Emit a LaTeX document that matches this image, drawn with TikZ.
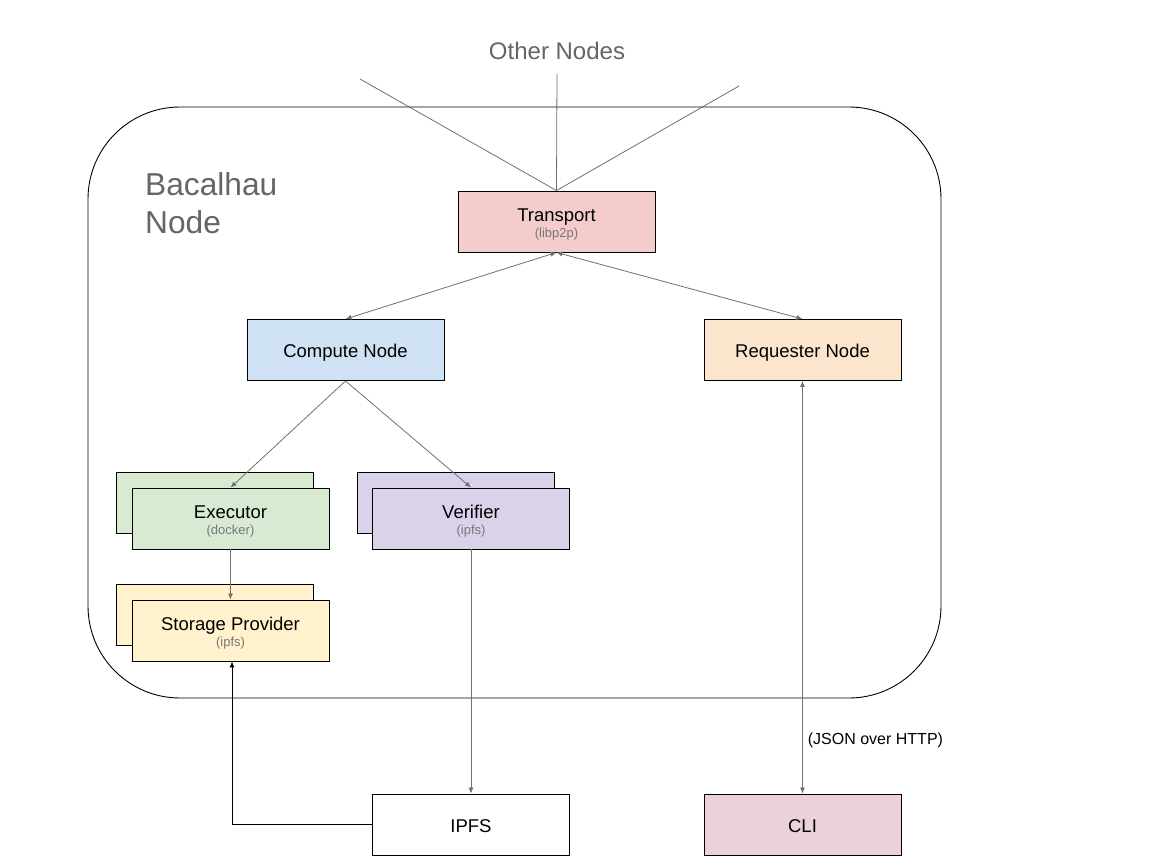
\documentclass[tikz,border=0pt]{standalone}
\usepackage{fontspec}
\setmainfont{Liberation Sans}
\usetikzlibrary{arrows.meta}
\definecolor{transportc}{HTML}{F4CCCC}
\definecolor{computec}{HTML}{CFE2F3}
\definecolor{requesterc}{HTML}{FCE5CD}
\definecolor{executorc}{HTML}{D9EAD3}
\definecolor{verifierc}{HTML}{D9D2E9}
\definecolor{storagec}{HTML}{FFF2CC}
\definecolor{clic}{HTML}{EAD1DC}
\definecolor{textgrey}{HTML}{666666}
\definecolor{subgrey}{HTML}{777777}
\definecolor{linegrey}{HTML}{707070}
\newcommand\subtxt[1]{{\color{subgrey}\fontsize{13}{13}\selectfont #1}}
\begin{document}
\begin{tikzpicture}[x=1pt,y=-1pt,
  box/.style={draw=black, line width=0.9pt, minimum width=197pt, minimum height=61pt,
    inner sep=0pt, align=center, font=\fontsize{18.5}{18}\selectfont},
  onebox/.style={box, text height=18pt, text depth=3pt},
  twobox/.style={box, text height=33pt, text depth=2pt},
  conn/.style={draw=linegrey, line width=0.8pt},
  arr/.style={conn, -{Latex[length=6pt,width=5pt]}},
  darr/.style={conn, {Latex[length=6pt,width=5pt]}-{Latex[length=6pt,width=5pt]}},
  blackarr/.style={draw=black, line width=0.9pt, -{Latex[length=6pt,width=5pt]}},
  greytext/.style={text=textgrey, inner sep=0pt}]
\useasboundingbox (0,0) rectangle (1152,864);
\fill[white] (0,0) rectangle (1152,864);

% outer Bacalhau node frame
\draw[line width=0.9pt, rounded corners=92pt] (88,107) rectangle (941,698);

\node[greytext, font=\fontsize{24}{24}\selectfont] (othernodes) at (557,51) {Other Nodes};
\node[greytext, font=\fontsize{31.7}{38}\selectfont, align=left, anchor=north west] (bacalhau) at (145,172) {Bacalhau\\Node};

\node[twobox, fill=transportc] (transport) at (556.5,221.5) {Transport\\[-2pt]\subtxt{(libp2p)}};
\node[onebox, fill=computec] (compute) at (345.5,350) {Compute Node};
\node[onebox, fill=requesterc] (requester) at (802.5,350) {Requester Node};

\node[box, fill=executorc] (execback) at (214.5,502.5) {};
\node[twobox, fill=executorc] (executor) at (230.5,518.5) {Executor\\[-2pt]\subtxt{(docker)}};
\node[box, fill=verifierc] (verback) at (455.5,502.5) {};
\node[twobox, fill=verifierc] (verifier) at (471,518.5) {Verifier\\[-2pt]\subtxt{(ipfs)}};
\node[box, fill=storagec] (storback) at (214.5,614.5) {};
\node[twobox, fill=storagec] (storage) at (230.5,630.5) {Storage Provider\\[-2pt]\subtxt{(ipfs)}};

\node[onebox, fill=white] (ipfs) at (471,824.5) {IPFS};
\node[onebox, fill=clic] (cli) at (802.5,824.5) {CLI};

% other nodes links
\coordinate (o1) at (360,79);
\coordinate (o2) at (557,74);
\coordinate (o3) at (739,86);
\draw[conn] (transport.north) -- (o1);
\draw[conn] (transport.north) -- (o2);
\draw[conn] (transport.north) -- (o3);

\draw[darr] (compute.north) -- (transport.south);
\draw[darr] (requester.north) -- (transport.south);
\draw[arr] (compute.south) -- (executor.north);
\draw[arr] (compute.south) -- (verifier.north);
\draw[arr] (executor.south) -- (storage.north);
\draw[arr] (verifier.south) -- (ipfs.north);
\draw[darr] (cli.north) -- node[pos=0.13, right=5pt, inner sep=0pt, font=\fontsize{16}{16}\selectfont] (jsonlabel) {(JSON over HTTP)} (requester.south);
\draw[blackarr] (ipfs.west) -| ([xshift=1.5pt]storage.south);
\end{tikzpicture}
\end{document}
